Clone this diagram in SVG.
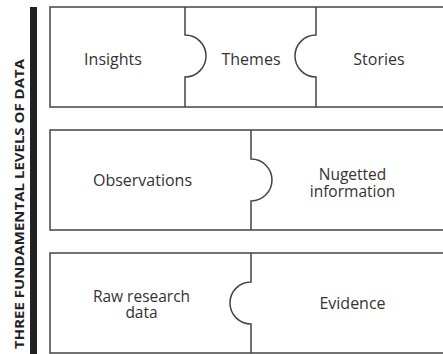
<svg xmlns="http://www.w3.org/2000/svg" width="443" height="354" viewBox="0 0 443 354">
<style>
.frame{fill:#fff;stroke:#444;stroke-width:1.5}
.cut{fill:none;stroke:#444;stroke-width:1.5}
.lbl{font-family:"Open Sans","Noto Sans","Liberation Sans",sans-serif;font-size:16px;fill:#333;text-anchor:middle}
.lbl2{font-family:"Open Sans","Noto Sans","Liberation Sans",sans-serif;font-size:15.5px;fill:#333;text-anchor:middle}
.side{font-family:"Open Sans","Liberation Sans",sans-serif;font-size:12px;font-weight:bold;fill:#222;text-anchor:middle}
</style>
<rect width="443" height="354" fill="#fff"/>
<g id="axis">
<rect x="30" y="7" width="7" height="347" fill="#222"/>
<text class="side" transform="translate(23.5,204) rotate(-90)" textLength="290" lengthAdjust="spacingAndGlyphs">THREE FUNDAMENTAL LEVELS OF DATA</text>
</g>
<g id="row-top">
<rect class="frame" x="50" y="7" width="400" height="100"/>
<g id="insights"><text class="lbl" x="113" y="65">Insights</text></g>
<g id="themes"><text class="lbl" x="251" y="65">Themes</text></g>
<g id="stories"><text class="lbl" x="379" y="65">Stories</text></g>
</g>
<g id="row-middle">
<rect class="frame" x="50" y="130" width="400" height="100"/>
<g id="observations"><text class="lbl" x="142.5" y="186">Observations</text></g>
<g id="nugetted"><text class="lbl2" x="352.5" y="180"><tspan x="352.5">Nugetted</tspan><tspan x="352.5" dy="16.5">information</tspan></text></g>
</g>
<g id="row-bottom">
<rect class="frame" x="50" y="253" width="400" height="100"/>
<g id="raw"><text class="lbl2" x="141.5" y="302"><tspan x="141.5">Raw research</tspan><tspan x="141.5" dy="16">data</tspan></text></g>
<g id="evidence"><text class="lbl" x="352.5" y="309">Evidence</text></g>
</g>
<g id="connectors">
<path class="cut" d="M185,7 V35 A21,21 0 0 1 185,77 V107"/>
<path class="cut" d="M316,7 V35 A21,21 0 0 0 316,77 V107"/>
<path class="cut" d="M251,130 V159 A21,21 0 0 1 251,201 V230"/>
<path class="cut" d="M251,253 V282 A21,21 0 0 0 251,324 V353"/>
</g>
</svg>
